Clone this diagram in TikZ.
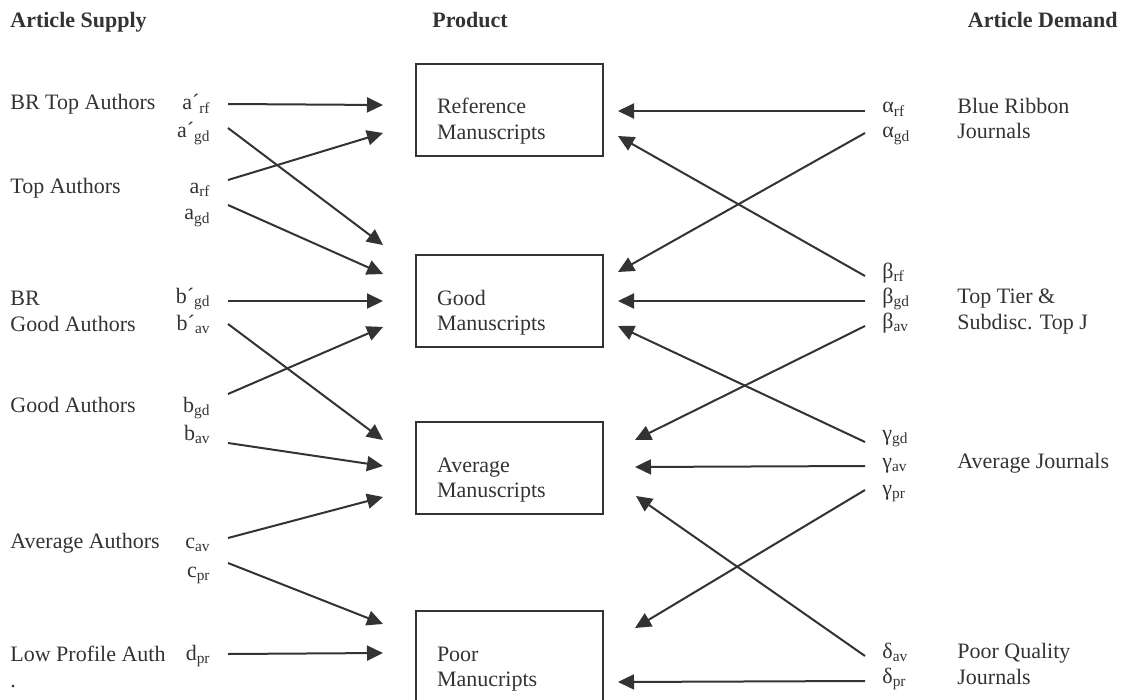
\documentclass[tikz,border=0pt]{standalone}
\usepackage{fontspec}
\setmainfont{Liberation Serif}
\usetikzlibrary{arrows.meta}

\definecolor{ink}{HTML}{333333}
\newcommand{\lo}[1]{\textsubscript{#1}}

\begin{document}
\begin{tikzpicture}[
  x=0.5pt, y=-0.5pt,
  every node/.style={text=ink, font=\fontsize{11pt}{12.75pt}\selectfont},
  hdr/.style={anchor=base west, inner sep=0pt, font=\fontsize{11pt}{12.75pt}\selectfont\bfseries},
  who/.style={anchor=base west, inner sep=0pt, align=left},
  lbl/.style={anchor=base east, inner xsep=8.5pt, inner ysep=0pt, text height=8pt, text depth=2pt},
  rlbl/.style={anchor=base west, inner xsep=8.5pt, inner ysep=0pt, text height=5pt, text depth=3pt},
  box/.style={draw=ink, line width=1pt, anchor=north west, inner xsep=10.5pt, inner ysep=0pt,
    text width=72.5pt, text height=25pt, text depth=21pt, align=left},
  arr/.style={draw=ink, line width=1pt, -{Triangle[length=8pt,width=7.5pt]}}
]
  \useasboundingbox (0,0) rectangle (1128,700);

  % column heads
  \node[hdr] (supply) at (10,28) {Article Supply};
  \node[hdr] (product) at (432,28) {Product};
  \node[hdr, anchor=base east] (demand) at (1118,28) {Article Demand};

  % products
  \node[box] (ref) at (415,63) {Reference\\Manuscripts};
  \node[box] (good) at (415,254) {Good\\Manuscripts};
  \node[box] (avg) at (415,421) {Average\\Manuscripts};
  \node[box] (poor) at (415,610) {Poor\\Manucripts};

  % supply side (two-line names sit on their last line)
  \node[who] (brtop) at (10,110) {BR Top Authors};
  \node[who] (top) at (10,193) {Top Authors};
  \node[who] (brgood) at (10,331) {BR\\Good Authors};
  \node[who] (goodau) at (10,412) {Good Authors};
  \node[who] (avgau) at (10,548) {Average Authors};
  \node[who] (lowau) at (10,687) {Low Profile Auth\\.};

  \node[lbl] (aprf) at (228,110) {a´\lo{rf}};
  \node[lbl] (apgd) at (228,138) {a´\lo{gd}};
  \node[lbl] (arf) at (228,193) {a\lo{rf}};
  \node[lbl] (agd) at (228,220) {a\lo{gd}};
  \node[lbl] (bpgd) at (228,303) {b´\lo{gd}};
  \node[lbl] (bpav) at (228,330) {b´\lo{av}};
  \node[lbl] (bgd) at (228,412) {b\lo{gd}};
  \node[lbl] (bav) at (228,440) {b\lo{av}};
  \node[lbl] (cav) at (228,548) {c\lo{av}};
  \node[lbl] (cpr) at (228,577) {c\lo{pr}};
  \node[lbl] (dpr) at (228,660) {d\lo{pr}};

  % demand side
  \node[who] (blue) at (957,139) {Blue Ribbon\\Journals};
  \node[who] (tier) at (957,329) {Top Tier \&\\Subdisc. Top J};
  \node[who] (avgj) at (957,468) {Average Journals};
  \node[who] (poorj) at (957,684) {Poor Quality\\Journals};

  \node[rlbl] (alrf) at (865,113) {α\lo{rf}};
  \node[rlbl] (algd) at (865,138) {α\lo{gd}};
  \node[rlbl] (berf) at (865,278) {β\lo{rf}};
  \node[rlbl] (begd) at (865,303) {β\lo{gd}};
  \node[rlbl] (beav) at (865,328) {β\lo{av}};
  \node[rlbl] (gagd) at (865,440) {γ\lo{gd}};
  \node[rlbl] (gaav) at (865,468) {γ\lo{av}};
  \node[rlbl] (gapr) at (865,495) {γ\lo{pr}};
  \node[rlbl] (deav) at (865,658) {δ\lo{av}};
  \node[rlbl] (depr) at (865,683) {δ\lo{pr}};

  % arrow heads beside the boxes
  \coordinate (refL1) at (383,105);
  \coordinate (refL2) at (383,133);
  \coordinate (goodL1) at (383,245);
  \coordinate (goodL2) at (383,274);
  \coordinate (goodL3) at (383,301);
  \coordinate (goodL4) at (383,327);
  \coordinate (avgL1) at (383,440);
  \coordinate (avgL2) at (383,466);
  \coordinate (avgL3) at (383,497);
  \coordinate (poorL1) at (383,624);
  \coordinate (poorL2) at (383,653);
  \coordinate (refR1) at (618,111);
  \coordinate (refR2) at (618,136);
  \coordinate (goodR1) at (618,272);
  \coordinate (goodR2) at (618,301);
  \coordinate (goodR3) at (618,326);
  \coordinate (avgR1) at (635,440);
  \coordinate (avgR2) at (635,467);
  \coordinate (avgR3) at (636,496);
  \coordinate (poorR1) at (635,628);
  \coordinate (poorR2) at (618,682);

  \draw[arr] (aprf.east) -- (refL1);
  \draw[arr] ([yshift=2pt]apgd.east) -- (goodL1);
  \draw[arr] ([yshift=3.5pt]arf.east) -- (refL2);
  \draw[arr] ([yshift=4.5pt]agd.east) -- (goodL2);
  \draw[arr] ([yshift=-2pt]bpgd.east) -- (goodL3);
  \draw[arr] (bpav.east) -- (avgL1);
  \draw[arr] ([yshift=6pt]bgd.east) -- (goodL4);
  \draw[arr] ([yshift=-4.5pt]bav.east) -- (avgL2);
  \draw[arr] ([yshift=2pt]cav.east) -- (avgL3);
  \draw[arr] ([yshift=4pt]cpr.east) -- (poorL1);
  \draw[arr] (dpr.east) -- (poorL2);

  \draw[arr] (alrf.west) -- (refR1);
  \draw[arr] ([yshift=1.5pt]algd.west) -- (goodR1);
  \draw[arr] (berf.west) -- (refR2);
  \draw[arr] (begd.west) -- (goodR2);
  \draw[arr] (beav.west) -- (avgR1);
  \draw[arr] ([yshift=-2pt]gagd.west) -- (goodR3);
  \draw[arr] (gaav.west) -- (avgR2);
  \draw[arr] ([yshift=1.5pt]gapr.west) -- (poorR1);
  \draw[arr] (deav.west) -- (avgR3);
  \draw[arr] (depr.west) -- (poorR2);
\end{tikzpicture}
\end{document}
